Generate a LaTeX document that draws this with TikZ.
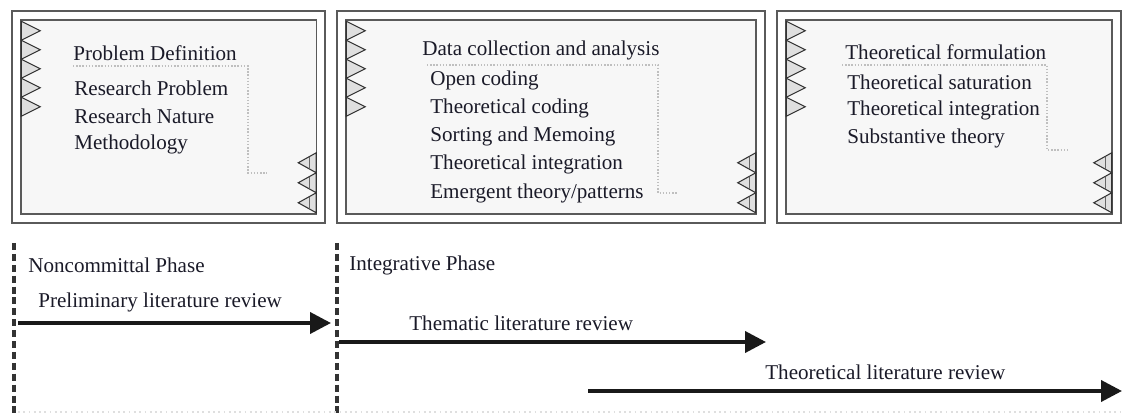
\documentclass[tikz,border=0pt]{standalone}
\usepackage{fontspec}
\setmainfont{Liberation Serif}
\usepackage{tikz}
\usetikzlibrary{positioning, arrows.meta, calc}
\definecolor{ink}{HTML}{1A1A28}
\definecolor{boxline}{HTML}{5A5A5A}

\begin{document}
\begin{tikzpicture}[x=0.02cm, y=-0.02cm,
    phasebox/.style={draw=boxline, line width=0.9pt, double=white, double distance=0.14cm, fill=gray!6, minimum height=4.06cm, inner sep=0pt},
    txt/.style={text=ink, font=\fontsize{12}{14}\selectfont, inner sep=0pt, anchor=west},
    item/.style={txt, minimum height=0.55cm, anchor=north west},
    bracket/.style={draw=gray!50, densely dotted, line width=0.8pt},
    tick/.style={draw=black!80, fill=gray!25, line width=0.6pt},
    phaseline/.style={draw=black!80, line width=1.8pt, dash pattern=on 4pt off 2.2pt},
    review/.style={-{Triangle[length=0.42cm, width=0.42cm]}, line width=2.2pt, draw=black!90}]
    \useasboundingbox (0,0) rectangle (1122,415);

    % the three phases
    \node[phasebox, minimum width=6.09cm] (pd) at (168.75,117) {};
    \node[phasebox, minimum width=8.38cm] (dc) at (551,117) {};
    \node[phasebox, minimum width=6.70cm] (tf) at (949,117) {};

    \foreach \b in {pd,dc,tf}{
        \foreach \i in {0,...,4}
            \draw[tick] ($(\b.north west)+(5.5,6.5+19*\i)$) -- ++(19,9.5) -- ++(-19,9.5) -- cycle;
        \foreach \i in {0,1,2}{
            \draw[tick] ($(\b.south east)+(-5.5,-66.5+20*\i)$) -- ++(-18,10) -- ++(18,10) -- cycle;
            \draw[black!60, line width=0.4pt] ($(\b.south east)+(-12,-62.5+20*\i)$) -- ++(0,12);
        }
    }

    % problem definition
    \node[txt] (pdt) at (73,53) {Problem Definition};
    \node[item] (rp) at (74,74.25) {Research Problem};
    \node[item, below=0pt of rp.south west, anchor=north west] (rn) {Research Nature};
    \node[item, below=0pt of rn.south west, anchor=north west] (me) {Methodology};
    \draw[bracket] (73,66) -| (248,173) -- (267,173);

    % data collection
    \node[txt] (dct) at (422,50) {Data collection and analysis};
    \node[item] (oc) at (430,66.25) {Open coding};
    \node[item, below=0pt of oc.south west, anchor=north west] (tc) {Theoretical coding};
    \node[item, below=0pt of tc.south west, anchor=north west] (sm) {Sorting and Memoing};
    \node[item, below=0pt of sm.south west, anchor=north west] (ti) {Theoretical integration};
    \node[item, below=0pt of ti.south west, anchor=north west] (et) {Emergent theory/patterns};
    \draw[bracket] (427,65) -| (658,193) -- (677,193);

    % theoretical formulation
    \node[txt] (tft) at (845,52) {Theoretical formulation};
    \node[item] (ts) at (847,68.25) {Theoretical saturation};
    \node[item, below=0pt of ts.south west, anchor=north west] (tin) {Theoretical integration};
    \node[item, below=0pt of tin.south west, anchor=north west] (st) {Substantive theory};
    \draw[bracket] (842,65) -| (1047,150) -- (1067,150);

    % phases and literature reviews
    \draw[phaseline] (14,243) -- (14,415);
    \draw[phaseline] (337,243) -- (337,415);
    \draw[gray!25, dotted, line width=1pt] (18,412) -- (1122,412);

    \node[txt] (ncp) at (28,265) {Noncommittal Phase};
    \node[txt] (igp) at (349,265) {Integrative Phase};

    \coordinate (prl-a) at (18,323);
    \coordinate (prl-b) at (331,323);
    \draw[review] (prl-a) -- (prl-b);
    \node[txt] (prl) at (38,302) {Preliminary literature review};

    \coordinate (thl-a) at (339,342);
    \coordinate (thl-b) at (766,342);
    \draw[review] (thl-a) -- (thl-b);
    \node[txt] (thl) at (409,323) {Thematic literature review};

    \coordinate (tll-a) at (588,391);
    \coordinate (tll-b) at (1122,391);
    \draw[review] (tll-a) -- (tll-b);
    \node[txt] (tll) at (765,372) {Theoretical literature review};
\end{tikzpicture}
\end{document}
